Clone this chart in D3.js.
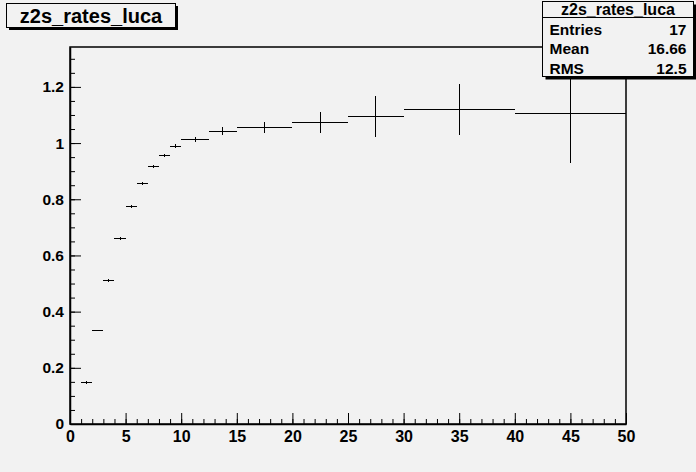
<!DOCTYPE html>
<html>
<head>
<meta charset="utf-8">
<script src="https://cdn.jsdelivr.net/npm/d3@7"></script>
<style>
  body { margin: 0; background: #f2f2f2; }
  svg { display: block; font-family: "Liberation Sans", Arial, sans-serif; }
  text { font-weight: bold; fill: #000; }
</style>
</head>
<body>
<div id="chart"></div>
<script>
var w = 696, h = 472;

// histogram bins (low edges + last high edge), contents and errors
var binEdges = [0, 1, 2, 3, 4, 5, 6, 7, 8, 9, 10, 12.5, 15, 20, 25, 30, 40, 50];
var binValues = [0, 0.148, 0.333, 0.51, 0.661, 0.775, 0.857, 0.917, 0.956, 0.989, 1.012, 1.042, 1.055, 1.074, 1.094, 1.119, 1.105];
var binErrors = [0, 0.004, 0.003, 0.005, 0.005, 0.005, 0.005, 0.005, 0.006, 0.006, 0.008, 0.014, 0.019, 0.037, 0.072, 0.092, 0.176];

var xTicks = [0, 5, 10, 15, 20, 25, 30, 35, 40, 45, 50];
var yTicks = [0, 0.2, 0.4, 0.6, 0.8, 1, 1.2];

var histTitle = "z2s_rates_luca";
var statNames = ["Entries", "Mean", "RMS"];
var statValues = ["17", "16.66", "12.5"];

var svg = d3.select("#chart").append("svg")
    .attr("width", w).attr("height", h);

svg.append("rect").attr("width", w).attr("height", h).attr("fill", "#f2f2f2");

// frame edges (note: "top" is reserved on window, so use fTop etc.)
var fLeft = 70, fRight = 626, fTop = 47, fBottom = 424;

var x = d3.scaleLinear().domain([0, 50]).range([fLeft, fRight]);
var y = d3.scaleLinear().domain([0, 1.342]).range([fBottom, fTop]);

// frame
svg.append("rect")
    .attr("x", fLeft).attr("y", fTop)
    .attr("width", fRight - fLeft).attr("height", fBottom - fTop)
    .attr("fill", "none").attr("stroke", "#000").attr("stroke-width", 1.5);

// minor ticks
var xMinor = d3.range(0, 51, 1);
var yMinor = d3.range(0, 1.34, 0.05);

svg.append("g")
    .attr("transform", "translate(0," + fBottom + ")")
    .call(d3.axisBottom(x).tickValues(xMinor).tickSizeInner(-5).tickSizeOuter(0).tickFormat(""))
    .call(g => g.select(".domain").remove());

svg.append("g")
    .attr("transform", "translate(" + fLeft + ",0)")
    .call(d3.axisLeft(y).tickValues(yMinor).tickSizeInner(-5).tickSizeOuter(0).tickFormat(""))
    .call(g => g.select(".domain").remove());

// major ticks + labels
var xAxis = svg.append("g")
    .attr("transform", "translate(0," + fBottom + ")")
    .call(d3.axisBottom(x).tickValues(xTicks).tickSizeInner(-11).tickSizeOuter(0).tickPadding(7).tickFormat(d3.format("d")));
xAxis.select(".domain").attr("stroke-width", 1.5);
xAxis.selectAll("text").attr("font-size", 16).attr("font-weight", "bold")
    .attr("font-family", "Liberation Sans, Arial, sans-serif");

var yAxis = svg.append("g")
    .attr("transform", "translate(" + fLeft + ",0)")
    .call(d3.axisLeft(y).tickValues(yTicks).tickSizeInner(-11).tickSizeOuter(0).tickPadding(6).tickFormat(d => d));
yAxis.select(".domain").attr("stroke-width", 1.5);
yAxis.selectAll("text").attr("font-size", 15.5).attr("font-weight", "bold")
    .attr("font-family", "Liberation Sans, Arial, sans-serif");

// histogram bins with error bars
var bins = binValues.map((v, i) => ({ lo: binEdges[i], hi: binEdges[i + 1], v: v, e: binErrors[i] }))
    .filter(d => d.v > 0);

var hist = svg.append("g").attr("stroke", "#000").attr("stroke-width", 1).attr("shape-rendering", "crispEdges");

hist.selectAll("line.bin").data(bins).enter().append("line")
    .attr("class", "bin")
    .attr("x1", d => x(d.lo)).attr("x2", d => x(d.hi))
    .attr("y1", d => y(d.v)).attr("y2", d => y(d.v));

hist.selectAll("line.err").data(bins).enter().append("line")
    .attr("class", "err")
    .attr("x1", d => x((d.lo + d.hi) / 2)).attr("x2", d => x((d.lo + d.hi) / 2))
    .attr("y1", d => y(d.v + d.e)).attr("y2", d => y(d.v - d.e));

// title box
var tb = svg.append("g");
tb.append("rect").attr("x", 9).attr("y", 6).attr("width", 169).attr("height", 24).attr("fill", "#000");
tb.append("rect").attr("x", 6.5).attr("y", 3.5).attr("width", 169).attr("height", 24)
    .attr("fill", "#f2f2f2").attr("stroke", "#000").attr("stroke-width", 1);
tb.append("text").attr("x", 91).attr("y", 23).attr("text-anchor", "middle")
    .attr("font-size", 20).text(histTitle);

// stats box
var sb = svg.append("g");
var sx = 542.5, sy = 1.5, sw = 151, sh = 75;
sb.append("rect").attr("x", sx + 3).attr("y", sy + 3).attr("width", sw).attr("height", sh).attr("fill", "#000");
sb.append("rect").attr("x", sx).attr("y", sy).attr("width", sw).attr("height", sh)
    .attr("fill", "#f2f2f2").attr("stroke", "#000").attr("stroke-width", 1);
sb.append("line").attr("x1", sx).attr("x2", sx + sw).attr("y1", 17.5).attr("y2", 17.5)
    .attr("stroke", "#000").attr("stroke-width", 1);
sb.append("text").attr("x", sx + sw / 2).attr("y", 14.5).attr("text-anchor", "middle")
    .attr("font-size", 16).text(histTitle);
sb.selectAll("text.name").data(statNames).enter().append("text")
    .attr("class", "name")
    .attr("x", sx + 7).attr("y", (d, i) => 35 + i * 19.3)
    .attr("font-size", 15.5).text(d => d);
sb.selectAll("text.val").data(statValues).enter().append("text")
    .attr("class", "val")
    .attr("x", sx + sw - 7).attr("y", (d, i) => 35 + i * 19.3)
    .attr("text-anchor", "end")
    .attr("font-size", 15.5).text(d => d);
</script>
</body>
</html>
